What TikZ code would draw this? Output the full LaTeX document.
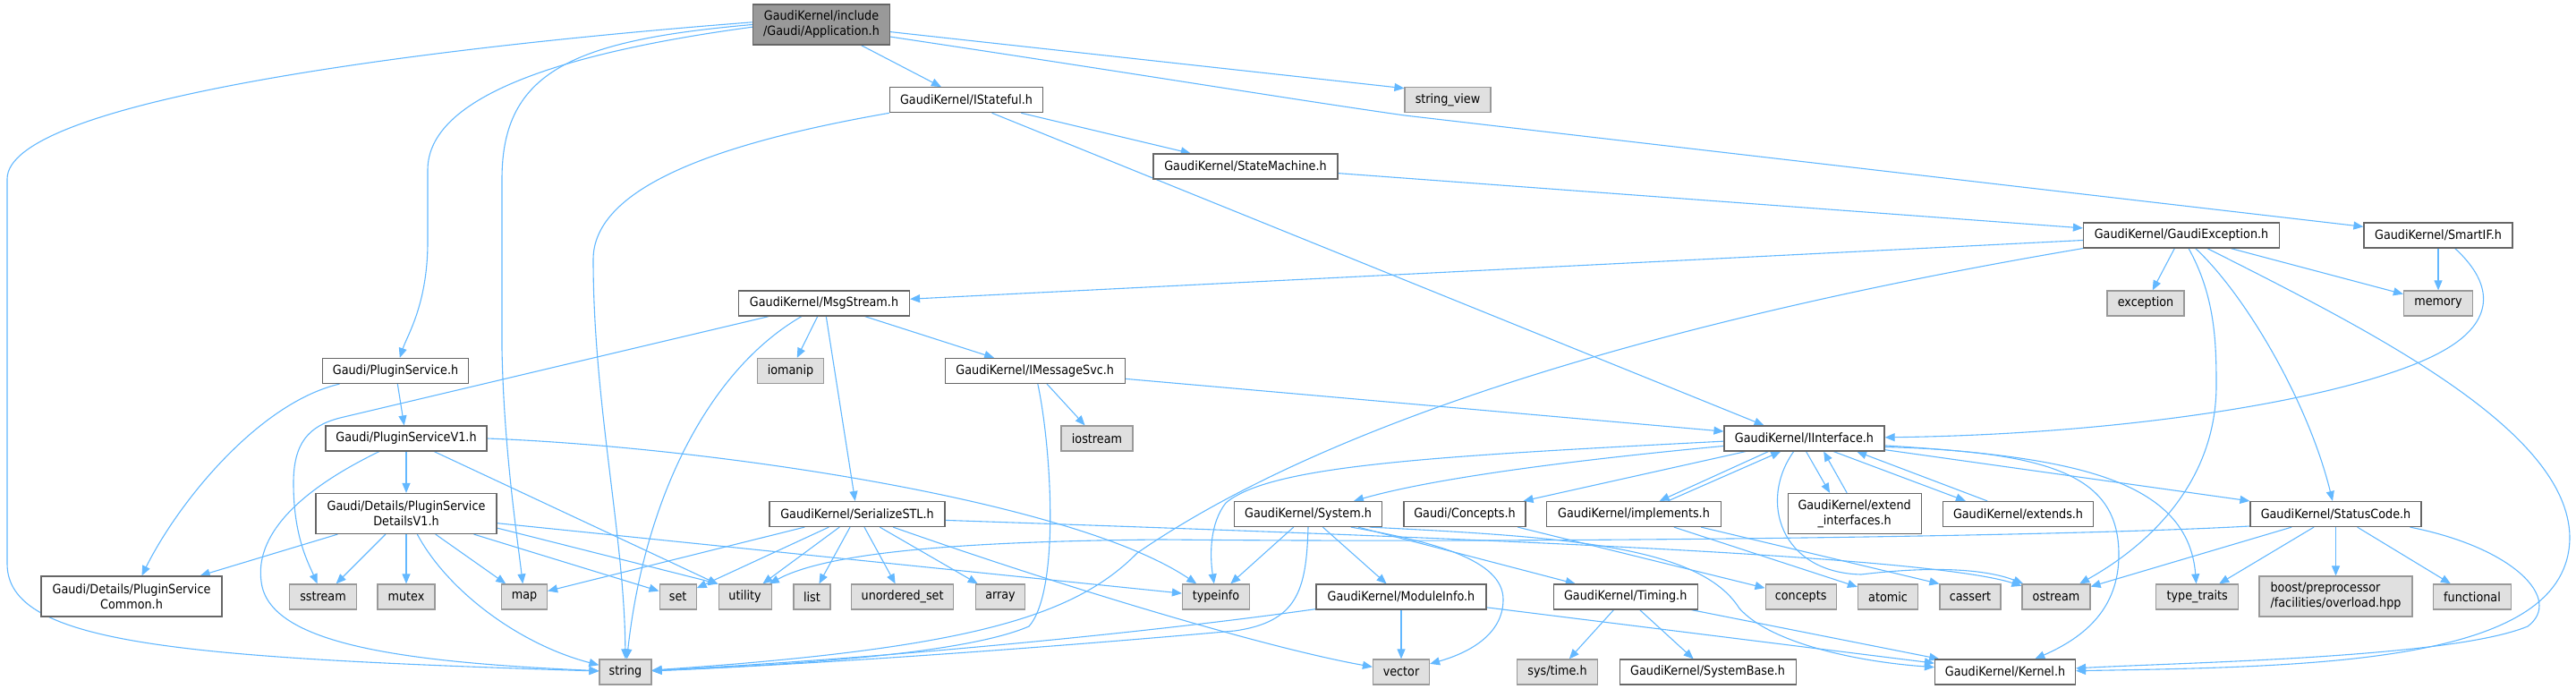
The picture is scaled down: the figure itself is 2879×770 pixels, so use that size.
\documentclass[tikz,border=0pt]{standalone}
\usepackage{fontspec}
\setmainfont{DejaVu Sans}[FakeStretch=0.9]
\usetikzlibrary{arrows.meta}
\definecolor{edgec}{HTML}{63B8FF}
\definecolor{bord}{HTML}{666666}
\definecolor{extfill}{HTML}{E0E0E0}
\definecolor{extbord}{HTML}{999999}
\definecolor{mainfill}{HTML}{999999}
\pgfdeclarelayer{bg}
\pgfsetlayers{bg,main}
\begin{document}
\begin{tikzpicture}[x=0.5pt,y=-0.5pt,
  box/.style={draw=bord, fill=white, line width=0.6pt, inner sep=0pt, minimum height=14pt,
              font=\fontsize{7.1}{8.5}\selectfont, align=center, text=black},
  ext/.style={box, draw=extbord, fill=extfill},
  mainbox/.style={box, fill=mainfill},
  two/.style={minimum height=22.5pt},
  dep/.style={draw=edgec, line width=0.55pt, -{Triangle[length=5.5pt,width=4.5pt]}}]
\useasboundingbox (0,0) rectangle (2879,770);
% ---------- nodes ----------
\node[mainbox,two,minimum width=76.5pt] (app) at (918,27.5) {GaudiKernel/include\\/Gaudi/Application.h};
\node[box,minimum width=85.5pt] (istateful) at (1080,111.7) {GaudiKernel/IStateful.h};
\node[ext,minimum width=48pt] (stringview) at (1618,111.7) {string\_view};
\node[box,minimum width=103pt] (statemachine) at (1392,186) {GaudiKernel/StateMachine.h};
\node[box,minimum width=109.5pt] (gaudiexc) at (2438,263) {GaudiKernel/GaudiException.h};
\node[box,minimum width=83pt] (smartif) at (2725,263) {GaudiKernel/SmartIF.h};
\node[box,minimum width=95.5pt] (msgstream) at (921,339) {GaudiKernel/MsgStream.h};
\node[ext,minimum width=43pt] (exception) at (2398,339) {exception};
\node[ext,minimum width=38.5pt] (memory) at (2725,339) {memory};
\node[box,minimum width=81.5pt] (pluginsvc) at (442,414.5) {Gaudi/PluginService.h};
\node[ext,minimum width=37pt] (iomanip) at (883.5,414.5) {iomanip};
\node[box,minimum width=100.5pt] (imsgsvc) at (1156.7,414.5) {GaudiKernel/IMessageSvc.h};
\node[box,minimum width=90pt] (psv1) at (454,490) {Gaudi/PluginServiceV1.h};
\node[ext,minimum width=40pt] (iostream) at (1226,490) {iostream};
\node[box,minimum width=89.5pt] (iinterface) at (2016.5,490) {GaudiKernel/IInterface.h};
\node[box,two,minimum width=101pt] (detailsv1) at (454,574) {Gaudi/Details/PluginService\\DetailsV1.h};
\node[box,minimum width=98pt] (serialize) at (958,574.5) {GaudiKernel/SerializeSTL.h};
\node[box,minimum width=82.5pt] (system) at (1462,574.5) {GaudiKernel/System.h};
\node[box,minimum width=68pt] (conceptsh) at (1637,574.5) {Gaudi/Concepts.h};
\node[box,minimum width=97.5pt] (implements) at (1826,574.5) {GaudiKernel/implements.h};
\node[box,two,minimum width=74.5pt] (extendif) at (2072.6,574) {GaudiKernel/extend\\\_interfaces.h};
\node[box,minimum width=84pt] (extends) at (2255.5,574.5) {GaudiKernel/extends.h};
\node[box,minimum width=95.5pt] (statuscode) at (2610.5,574.5) {GaudiKernel/StatusCode.h};
\node[box,two,minimum width=101pt] (common) at (147,666.5) {Gaudi/Details/PluginService\\Common.h};
\node[ext,minimum width=37.5pt] (sstream) at (361,667) {sstream};
\node[ext,minimum width=32pt] (mutex) at (454,667) {mutex};
\node[ext,minimum width=25.5pt] (map) at (586,667) {map};
\node[ext,minimum width=20.5pt] (set) at (757.6,667) {set};
\node[ext,minimum width=29.5pt] (utility) at (832.6,667) {utility};
\node[ext,minimum width=20.5pt] (list) at (907.4,667) {list};
\node[ext,minimum width=57pt] (unorderedset) at (1008.6,667) {unordered\_set};
\node[ext,minimum width=27.5pt] (array) at (1118,667) {array};
\node[ext,minimum width=37.5pt] (typeinfo) at (1359,667) {typeinfo};
\node[box,minimum width=95pt] (moduleinfo) at (1566,667) {GaudiKernel/ModuleInfo.h};
\node[box,minimum width=80.5pt] (timing) at (1816.7,667) {GaudiKernel/Timing.h};
\node[ext,minimum width=39.5pt] (concepts) at (2012.6,667) {concepts};
\node[ext,minimum width=33.5pt] (atomic) at (2110,667) {atomic};
\node[ext,minimum width=34pt] (cassert) at (2202,667) {cassert};
\node[ext,minimum width=38pt] (ostream) at (2298,667) {ostream};
\node[ext,minimum width=46pt] (typetraits) at (2455.7,667) {type\_traits};
\node[ext,two,minimum width=85.5pt,align=left] (boost) at (2610.5,666.5) {boost/preprocessor\\/facilities/overload.hpp};
\node[ext,minimum width=43.5pt] (functional) at (2763,667) {functional};
\node[ext,minimum width=29pt] (string) at (699,751) {string};
\node[ext,minimum width=31.5pt] (vector) at (1566,751) {vector};
\node[ext,minimum width=45pt] (systime) at (1740.5,751) {sys/time.h};
\node[box,minimum width=98.5pt] (systembase) at (1908.6,751) {GaudiKernel/SystemBase.h};
\node[box,minimum width=78.5pt] (kernel) at (2241,751) {GaudiKernel/Kernel.h};
% ---------- edges ----------
\begin{pgfonlayer}{bg}
% Application.h
\draw[dep] (app) -- (istateful);
\draw[dep] (app.-6) -- (stringview.165);
\draw[dep] (app.-10) .. controls (1300,87) and (1450,112) .. (1570,129) -- (smartif);
\draw[dep] (app.178) .. controls (450,55) and (8,115) .. (8,200) -- (8,630) .. controls (8,720) and (200,735) .. (string);
\draw[dep] (app.west) .. controls (640,45) and (561,80) .. (561,200) -- (561,390) .. controls (563,500) and (578,600) .. (map);
\draw[dep] (app.182) .. controls (620,60) and (478,110) .. (478,190) -- (478,270) .. controls (478,340) and (455,375) .. (pluginsvc);
% IStateful.h
\draw[dep] (istateful.south west) .. controls (800,160) and (663,210) .. (663,290) .. controls (663,450) and (698,600) .. (string);
\draw[dep] (istateful) -- (statemachine);
\draw[dep] (istateful.-27) -- (iinterface.162);
% StateMachine.h
\draw[dep] (statemachine) -- (gaudiexc);
% SmartIF.h
\draw[dep] (smartif) -- (memory);
\draw[dep] (smartif.-38) .. controls (2790,320) and (2785,360) .. (2734,390) .. controls (2650,440) and (2400,485) .. (iinterface);
% GaudiException.h
\draw[dep] (gaudiexc) -- (msgstream);
\draw[dep] (gaudiexc) -- (exception);
\draw[dep] (gaudiexc) -- (memory);
\draw[dep] (gaudiexc.south west) .. controls (1900,350) and (1500,460) .. (1271,618) .. controls (1200,690) and (1080,725) .. (string);
\draw[dep] (gaudiexc) .. controls (2475,330) and (2477,380) .. (2477,430) .. controls (2477,540) and (2400,610) .. (ostream);
\draw[dep] (gaudiexc) .. controls (2510,330) and (2580,450) .. (statuscode);
\draw[dep] (gaudiexc) .. controls (2650,370) and (2870,480) .. (2872,600) .. controls (2872,740) and (2600,745) .. (kernel);
% MsgStream.h
\draw[dep] (msgstream) -- (380,467) .. controls (345,476) and (328,495) .. (328,540) .. controls (328,600) and (345,630) .. (sstream);
\draw[dep] (msgstream) .. controls (790,415) and (720,560) .. (string);
\draw[dep] (msgstream) -- (iomanip);
\draw[dep] (msgstream) -- (serialize);
\draw[dep] (msgstream) -- (imsgsvc);
% IMessageSvc.h
\draw[dep] (imsgsvc) -- (iinterface);
\draw[dep] (imsgsvc) -- (iostream);
\draw[dep] (imsgsvc) .. controls (1175,500) and (1185,660) .. (1150,700) .. controls (1080,730) and (900,742) .. (string);
% PluginService.h
\draw[dep] (pluginsvc) -- (psv1);
\draw[dep] (pluginsvc) .. controls (290,450) and (200,560) .. (common);
% PluginServiceV1.h
\draw[dep] (psv1) -- (detailsv1);
\draw[dep] (psv1) .. controls (330,550) and (285,600) .. (292,650) .. controls (300,720) and (450,740) .. (string);
\draw[dep] (psv1) -- (utility);
\draw[dep] (psv1.east) .. controls (800,500) and (1200,560) .. (typeinfo);
% PluginServiceDetailsV1.h
\draw[dep] (detailsv1) -- (common);
\draw[dep] (detailsv1) -- (sstream);
\draw[dep] (detailsv1) -- (mutex);
\draw[dep] (detailsv1) -- (map);
\draw[dep] (detailsv1) .. controls (500,660) and (580,720) .. (string);
\draw[dep] (detailsv1.-17) -- (set);
\draw[dep] (detailsv1.-9) -- (utility.north west);
\draw[dep] (detailsv1.-6) -- (typeinfo);
% SerializeSTL.h
\draw[dep] (serialize) -- (map);
\draw[dep] (serialize) -- (set);
\draw[dep] (serialize) -- (utility);
\draw[dep] (serialize) -- (list);
\draw[dep] (serialize) -- (unorderedset);
\draw[dep] (serialize) -- (array);
\draw[dep] (serialize.-20) .. controls (1200,660) and (1420,725) .. (vector);
\draw[dep] (serialize.-4) .. controls (1600,600) and (2150,620) .. (ostream);
% IInterface.h
\draw[dep] (iinterface) .. controls (1750,515) and (1600,535) .. (system);
\draw[dep] (iinterface) -- (conceptsh);
\draw[dep] (iinterface.200) -- (implements.27);
\draw[dep] (implements.21) -- (iinterface.209);
\draw[dep] (iinterface.-82) -- (extendif.140);
\draw[dep] (extendif.110) -- (iinterface.-34);
\draw[dep] (iinterface.-24) -- (extends.166);
\draw[dep] (extends.157) -- (iinterface.-14);
\draw[dep] (iinterface.-8) -- (statuscode.north west);
\draw[dep] (iinterface.-6) .. controls (2300,505) and (2368,535) .. (2368,620) .. controls (2368,680) and (2330,712) .. (kernel);
\draw[dep] (iinterface.231) .. controls (1965,560) and (1990,640) .. (2080,642) .. controls (2180,630) and (2230,640) .. (ostream);
\draw[dep] (iinterface.-5) .. controls (2300,510) and (2445,530) .. (typetraits);
\draw[dep] (iinterface.182) .. controls (1600,510) and (1420,520) .. (1370,562) .. controls (1352,585) and (1352,620) .. (typeinfo);
% implements.h
\draw[dep] (implements) -- (atomic);
\draw[dep] (implements.-11) -- (cassert.north west);
% System.h
\draw[dep] (system) -- (typeinfo);
\draw[dep] (system.south) .. controls (1460,660) and (1450,695) .. (1380,705) .. controls (1100,730) and (850,745) .. (string);
\draw[dep] (system) -- (moduleinfo);
\draw[dep] (system.-17) .. controls (1600,605) and (1680,625) .. (1680,670) .. controls (1680,710) and (1640,730) .. (vector);
\draw[dep] (system) -- (timing);
\draw[dep] (system.-12) .. controls (1750,600) and (1900,610) .. (1944,680) .. controls (1980,720) and (2080,740) .. (kernel);
% Concepts.h
\draw[dep] (conceptsh) -- (concepts);
% StatusCode.h
\draw[dep] (statuscode.188) .. controls (2300,600) and (1700,607) .. (1300,603) .. controls (1050,605) and (920,620) .. (utility);
\draw[dep] (statuscode) -- (ostream);
\draw[dep] (statuscode) -- (typetraits);
\draw[dep] (statuscode) -- (boost);
\draw[dep] (statuscode) -- (functional);
\draw[dep] (statuscode.-10) .. controls (2810,612) and (2865,670) .. (2825,700) .. controls (2740,735) and (2450,740) .. (kernel);
% ModuleInfo.h
\draw[dep] (moduleinfo) .. controls (1300,705) and (1000,735) .. (string);
\draw[dep] (moduleinfo) -- (vector);
\draw[dep] (moduleinfo) -- (kernel);
% Timing.h
\draw[dep] (timing) -- (systime);
\draw[dep] (timing) -- (systembase);
\draw[dep] (timing) -- (kernel);
\end{pgfonlayer}
\end{tikzpicture}
\end{document}
